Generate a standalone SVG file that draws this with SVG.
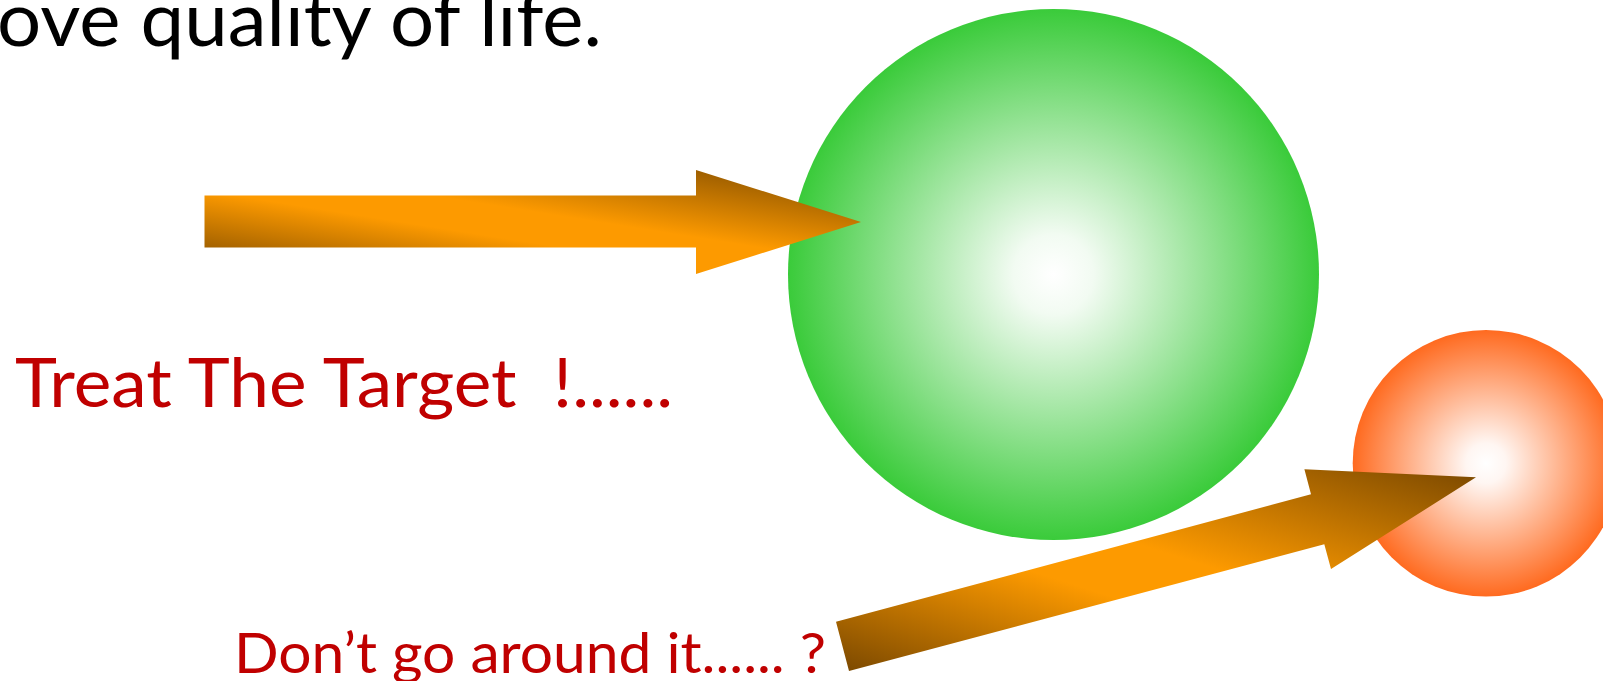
<svg xmlns="http://www.w3.org/2000/svg" width="1603" height="681" viewBox="0 0 1603 681">
<style>
.t{font-family:Lato,"Open Sans","Liberation Sans",sans-serif;white-space:pre;}
.red{fill:#C00000;}
</style>
<defs>
<radialGradient id="gGreen" cx="0.5" cy="0.5" r="0.5">
<stop offset="0" stop-color="#FFFFFF"/>
<stop offset="0.15" stop-color="#F2FBF2"/>
<stop offset="1" stop-color="#3ACB3A"/>
</radialGradient>
<radialGradient id="gOrange" cx="0.5" cy="0.5" r="0.5">
<stop offset="0" stop-color="#FFFFFF"/>
<stop offset="0.15" stop-color="#FFF6F2"/>
<stop offset="1" stop-color="#FF6A1F"/>
</radialGradient>
<linearGradient id="gArrow" x1="0" y1="1" x2="1" y2="0">
<stop offset="0" stop-color="#7A4800"/>
<stop offset="0.4" stop-color="#FD9A00"/>
<stop offset="0.55" stop-color="#FD9A00"/>
<stop offset="1" stop-color="#7A4800"/>
</linearGradient>
</defs>
<rect width="1603" height="681" fill="#FFFFFF"/>
<text class="t" x="-3" y="45.5" font-size="75" fill="#000000" textLength="605" lengthAdjust="spacingAndGlyphs">ove quality of life.</text>
<g id="target">
<circle cx="1053.5" cy="274.5" r="265.5" fill="url(#gGreen)"/>
</g>
<g id="other">
<circle cx="1486" cy="463.3" r="133.3" fill="url(#gOrange)"/>
</g>
<g id="connectors">
<polygon points="204.5,195.5 696,195.5 696,170 861,222 696,274 696,247.5 204.5,247.5" fill="url(#gArrow)"/>
<polygon points="836,621.7 1311,494.3 1304.4,469.3 1476,477.3 1331,569 1324.3,544.3 849,671" fill="url(#gArrow)"/>
</g>
<text class="t red" x="15" y="407" font-size="67" textLength="658" lengthAdjust="spacingAndGlyphs" xml:space="preserve">Treat The Target  !......</text>
<text class="t red" x="234" y="672.5" font-size="57" textLength="592" lengthAdjust="spacingAndGlyphs">Don’t go around it...... ?</text>
</svg>
